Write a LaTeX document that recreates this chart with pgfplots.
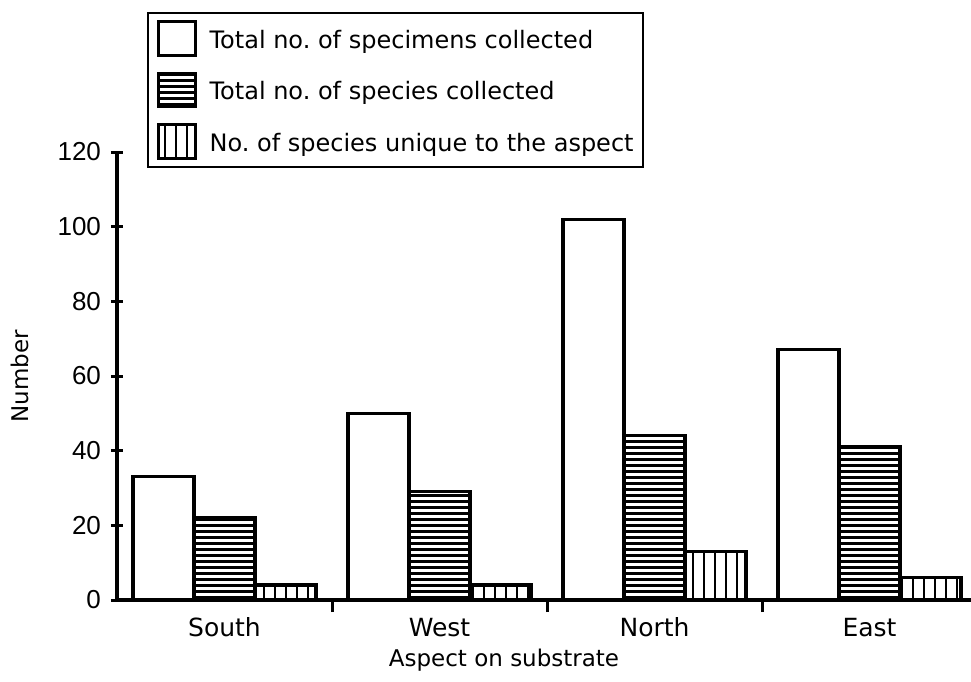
\documentclass[border=0pt]{standalone}
\usepackage{fontspec}
\setmainfont{DejaVu Sans}
\newfontfamily\tickfont{Liberation Sans}
\usepackage{pgfplots}
\pgfplotsset{compat=1.18}
\usetikzlibrary{patterns.meta}

\pgfplotsset{
  legimg/.style={legend image code/.code={
    \draw[##1, line width=1.3pt] (0pt,-7.5pt) rectangle (18.5pt,9.5pt);}},
}

\begin{document}
\frenchspacing
\begin{tikzpicture}
\begin{axis}[
  scale only axis,
  width=430pt, height=224pt,
  xmin=-0.5, xmax=3.5,
  ymin=0, ymax=120,
  ytick={0,20,...,120},
  xtick={0.5,1.5,2.5},
  xticklabels={},
  extra x ticks={0,1,2,3},
  extra x tick labels={South,West,North,East},
  extra x tick style={major tick length=0pt, tick style={draw=none}},
  axis x line*=bottom, axis y line*=left,
  axis line style={line width=1.6pt, -},
  tick style={line width=1.5pt, black},
  tick align=center,
  major tick length=6pt,
  ybar=0pt, bar width=30.5pt,
  /pgf/number format/assume math mode=true,
  yticklabel style={font=\tickfont\fontsize{13}{15}\selectfont, xshift=-1.5pt},
  xticklabel style={font=\fontsize{12.5}{14}\selectfont, anchor=base, yshift=-18pt},
  xlabel={Aspect on substrate},
  ylabel={Number},
  xlabel style={at={(axis description cs:0.45,0)}, anchor=base, yshift=-33pt,
    font=\fontsize{11.5}{14}\selectfont},
  ylabel style={at={(axis description cs:0,0.5)}, anchor=center, yshift=48.5pt,
    font=\fontsize{11.5}{14}\selectfont},
  legend style={at={(0,1)}, anchor=south west, xshift=15pt, yshift=-8pt,
    draw=black, line width=1pt, fill=white,
    inner xsep=4.5pt, inner ysep=3.5pt, row sep=7.5pt,
    nodes={inner sep=0pt, font=\fontsize{12}{14}\selectfont},
    /tikz/every odd column/.append style={column sep=6.5pt}},
  legend cell align=left,
]
\addplot[draw=black, line width=1.6pt, fill=white, legimg]
  coordinates {(0,33) (1,50) (2,102) (3,67)};
\addplot[draw=black, line width=1.6pt,
  pattern={Lines[angle=0,distance=3pt,line width=1.5pt]}, legimg]
  coordinates {(0,22) (1,29) (2,44) (3,41)};
\addplot[draw=black, line width=1.6pt,
  pattern={Lines[angle=90,distance=5.5pt,line width=1.1pt]}, legimg]
  coordinates {(0,4) (1,4) (2,13) (3,6)};
\legend{Total no. of specimens collected,
        Total no. of species collected,
        No. of species unique to the aspect}
\end{axis}
\pgfresetboundingbox
\path ([xshift=-58.5pt,yshift=-40.5pt]current axis.south west)
  rectangle ([xshift=-3pt,yshift=76pt]current axis.north east);
\end{tikzpicture}
\end{document}
